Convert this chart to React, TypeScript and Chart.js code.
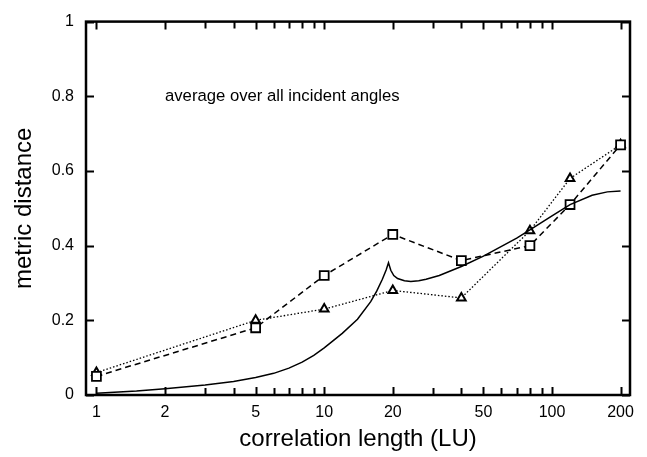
import { useEffect, useRef } from "react";
import { Chart, registerables } from "chart.js";

Chart.register(...registerables);

const FONT = '"Liberation Sans", Arial, Helvetica, sans-serif';

// marker series (correlation length in LU)
const markerLengths = [1, 5, 10, 20, 40, 80, 120, 200];
const squareValues = [0.05, 0.18, 0.32, 0.43, 0.36, 0.40, 0.51, 0.67];
const triangleValues = [0.06, 0.20, 0.23, 0.28, 0.26, 0.44, 0.58, 0.67];

// solid curve
const curveLengths = [1, 1.5, 2, 3, 4, 5, 6, 7, 8, 9, 10, 12, 14, 16, 17, 18, 18.7, 19.15, 19.6, 20.2, 21, 22.5, 24, 26, 28, 32, 40, 50, 60, 70, 80, 100, 120, 150, 175, 200];
const curveValues = [0.005, 0.011, 0.017, 0.027, 0.036, 0.047, 0.058, 0.072, 0.088, 0.106, 0.126, 0.165, 0.203, 0.25, 0.278, 0.31, 0.335, 0.354, 0.334, 0.32, 0.312, 0.306, 0.304, 0.306, 0.31, 0.32, 0.344, 0.372, 0.398, 0.42, 0.442, 0.48, 0.51, 0.535, 0.544, 0.546];

const xTickValues = [1, 2, 3, 4, 5, 6, 7, 8, 9, 10, 20, 30, 40, 50, 60, 70, 80, 90, 100, 200];
const xLabelled = [1, 2, 5, 10, 20, 50, 100, 200];
const yTickValues = [0, 0.2, 0.4, 0.6, 0.8, 1];
const yTickLabels = ["0", "0.2", "0.4", "0.6", "0.8", "1"];

const annotationText = "average over all incident angles";
const xTitle = "correlation length (LU)";
const yTitle = "metric distance";

const framePlugin = {
  id: "frame",
  afterDatasetsDraw(chart: any) {
    const { ctx, chartArea, scales } = chart;
    const { left, right, top, bottom } = chartArea;
    ctx.save();
    ctx.strokeStyle = "#000";
    ctx.lineWidth = 2;
    ctx.beginPath();
    xTickValues.forEach((v) => {
      const px = Math.round(scales.x.getPixelForValue(v)) + 0.5;
      const len = xLabelled.includes(v) ? 8 : 7;
      ctx.moveTo(px, bottom);
      ctx.lineTo(px, bottom - len);
      ctx.moveTo(px, top);
      ctx.lineTo(px, top + len);
    });
    yTickValues.forEach((v) => {
      const py = Math.round(scales.y.getPixelForValue(v)) + 0.5;
      ctx.moveTo(left, py);
      ctx.lineTo(left + 8, py);
      ctx.moveTo(right, py);
      ctx.lineTo(right - 8, py);
    });
    ctx.stroke();
    ctx.lineWidth = 2.5;
    ctx.strokeRect(left, top, right - left, bottom - top);
    ctx.fillStyle = "#000";
    ctx.font = `16.7px ${FONT}`;
    ctx.textAlign = "left";
    ctx.textBaseline = "middle";
    ctx.fillText(annotationText, scales.x.getPixelForValue(2), scales.y.getPixelForValue(0.8));
    ctx.restore();
  },
};

export default function App() {
  const ref = useRef<HTMLCanvasElement | null>(null);
  useEffect(() => {
    if (!ref.current) return;
    const chart = new Chart(ref.current, {
      type: "line",
      data: {
        datasets: [
          {
            label: "model",
            data: curveLengths.map((x, i) => ({ x, y: curveValues[i] })),
            borderColor: "#000",
            borderWidth: 1.5,
            pointRadius: 0,
            tension: 0,
            fill: false,
          },
          {
            label: "squares",
            data: markerLengths.map((x, i) => ({ x, y: squareValues[i] })),
            borderColor: "#000",
            borderWidth: 1.5,
            borderDash: [6, 4],
            pointStyle: "rect",
            pointRadius: 6.3,
            pointBorderWidth: 1.8,
            pointBackgroundColor: "#fff",
            pointBorderColor: "#000",
            tension: 0,
            fill: false,
          },
          {
            label: "triangles",
            data: markerLengths.map((x, i) => ({ x, y: triangleValues[i] })),
            borderColor: "#000",
            borderWidth: 1.3,
            borderDash: [1.5, 2],
            pointStyle: "triangle",
            pointRadius: 5,
            pointBorderWidth: 2,
            pointBackgroundColor: "#fff",
            pointBorderColor: "#000",
            tension: 0,
            fill: false,
          },
        ],
      },
      options: {
        animation: false,
        responsive: true,
        maintainAspectRatio: false,
        layout: { padding: { top: 12, right: 17, left: 0, bottom: 0 } },
        plugins: { legend: { display: false }, tooltip: { enabled: false } },
        scales: {
          x: {
            type: "logarithmic",
            min: 0.9,
            max: 220,
            grid: { display: false, drawTicks: false },
            border: { display: false },
            afterBuildTicks: (scale: any) => {
              scale.ticks = xTickValues.map((v) => ({ value: v }));
            },
            afterFit: (scale: any) => {
              scale.height = 62;
            },
            ticks: {
              autoSkip: false,
              maxRotation: 0,
              padding: 8,
              color: "#000",
              font: { family: FONT, size: 16 },
              callback: (value: any) => (xLabelled.includes(Number(value)) ? String(value) : ""),
            },
            title: {
              display: true,
              text: xTitle,
              color: "#000",
              font: { family: FONT, size: 24 },
              padding: { top: 0, bottom: 3 },
            },
          },
          y: {
            type: "linear",
            min: 0,
            max: 1,
            grid: { display: false, drawTicks: false },
            border: { display: false },
            afterBuildTicks: (scale: any) => {
              scale.ticks = yTickValues.map((v) => ({ value: v }));
            },
            afterFit: (scale: any) => {
              scale.width = 86;
            },
            ticks: {
              padding: 12,
              color: "#000",
              font: { family: FONT, size: 16 },
              callback: (value: any) => {
                const i = yTickValues.findIndex((v) => Math.abs(v - Number(value)) < 1e-9);
                return i >= 0 ? yTickLabels[i] : "";
              },
            },
            title: {
              display: true,
              text: yTitle,
              color: "#000",
              font: { family: FONT, size: 24 },
              padding: { top: 10, bottom: 0 },
            },
          },
        },
      },
      plugins: [framePlugin],
    } as any);
    return () => chart.destroy();
  }, []);
  return (
    <div style={{ position: "absolute", left: 0, top: 0, width: 647, height: 457, background: "#fff" }}>
      <canvas ref={ref} />
    </div>
  );
}
